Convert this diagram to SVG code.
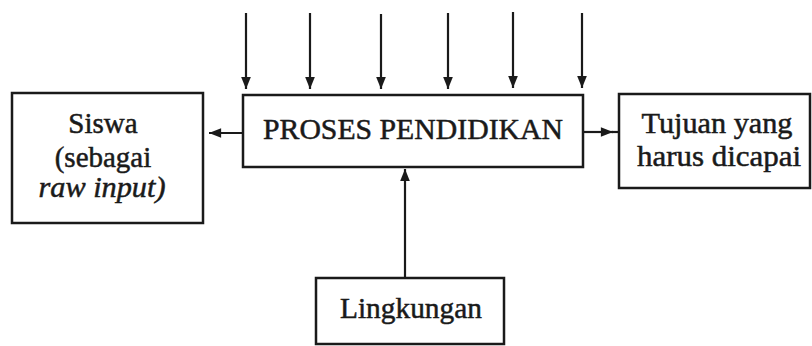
<svg xmlns="http://www.w3.org/2000/svg" width="812" height="346" viewBox="0 0 812 346">
<defs>
<style>
.box{fill:#fff;stroke:#1a1a1a;stroke-width:2.5}
.t{font-family:"Liberation Serif","Times New Roman",serif;font-size:29px;fill:#1a1a1a;stroke:#1a1a1a;stroke-width:0.5;text-anchor:middle}
.ln{stroke:#1a1a1a;stroke-width:2.2;fill:none}
</style>
<marker id="ah" viewBox="0 0 10 10" refX="10" refY="5" markerWidth="6.5" markerHeight="5.5" orient="auto" markerUnits="strokeWidth">
<path d="M0,1 L10,5 L0,9 Z" fill="#1a1a1a"/>
</marker>
</defs>
<rect width="812" height="346" fill="#fff"/>
<g id="connectors">
<line class="ln" x1="246" y1="13" x2="246" y2="89" marker-end="url(#ah)"/>
<line class="ln" x1="310" y1="13" x2="310" y2="89" marker-end="url(#ah)"/>
<line class="ln" x1="381" y1="14" x2="381" y2="89" marker-end="url(#ah)"/>
<line class="ln" x1="448" y1="13" x2="448" y2="89" marker-end="url(#ah)"/>
<line class="ln" x1="513" y1="12" x2="513" y2="88" marker-end="url(#ah)"/>
<line class="ln" x1="582" y1="13" x2="582" y2="88" marker-end="url(#ah)"/>
<line class="ln" x1="243" y1="133" x2="209" y2="133" marker-end="url(#ah)"/>
<line class="ln" x1="583" y1="132" x2="613" y2="132" marker-end="url(#ah)"/>
<line class="ln" x1="618" y1="132" x2="612" y2="132"/>
<line class="ln" x1="405" y1="278" x2="405" y2="169" marker-end="url(#ah)"/>
</g>
<g id="proses">
<rect class="box" x="243" y="95" width="340" height="72"/>
<text class="t" x="413" y="139" textLength="300" lengthAdjust="spacingAndGlyphs">PROSES PENDIDIKAN</text>
</g>
<g id="siswa">
<rect class="box" x="12" y="93" width="191" height="130"/>
<text class="t" x="103" y="133">Siswa</text>
<text class="t" x="103" y="167">(sebagai</text>
<text class="t" x="102" y="197" font-style="italic" textLength="127" lengthAdjust="spacingAndGlyphs">raw input)</text>
</g>
<g id="tujuan">
<rect class="box" x="619" y="94" width="191" height="94"/>
<text class="t" x="717" y="133" textLength="151" lengthAdjust="spacingAndGlyphs">Tujuan yang</text>
<text class="t" x="719" y="166" textLength="164" lengthAdjust="spacingAndGlyphs">harus dicapai</text>
</g>
<g id="lingkungan">
<rect class="box" x="316" y="278" width="188" height="66"/>
<text class="t" x="411" y="318" textLength="142" lengthAdjust="spacingAndGlyphs">Lingkungan</text>
</g>
</svg>
